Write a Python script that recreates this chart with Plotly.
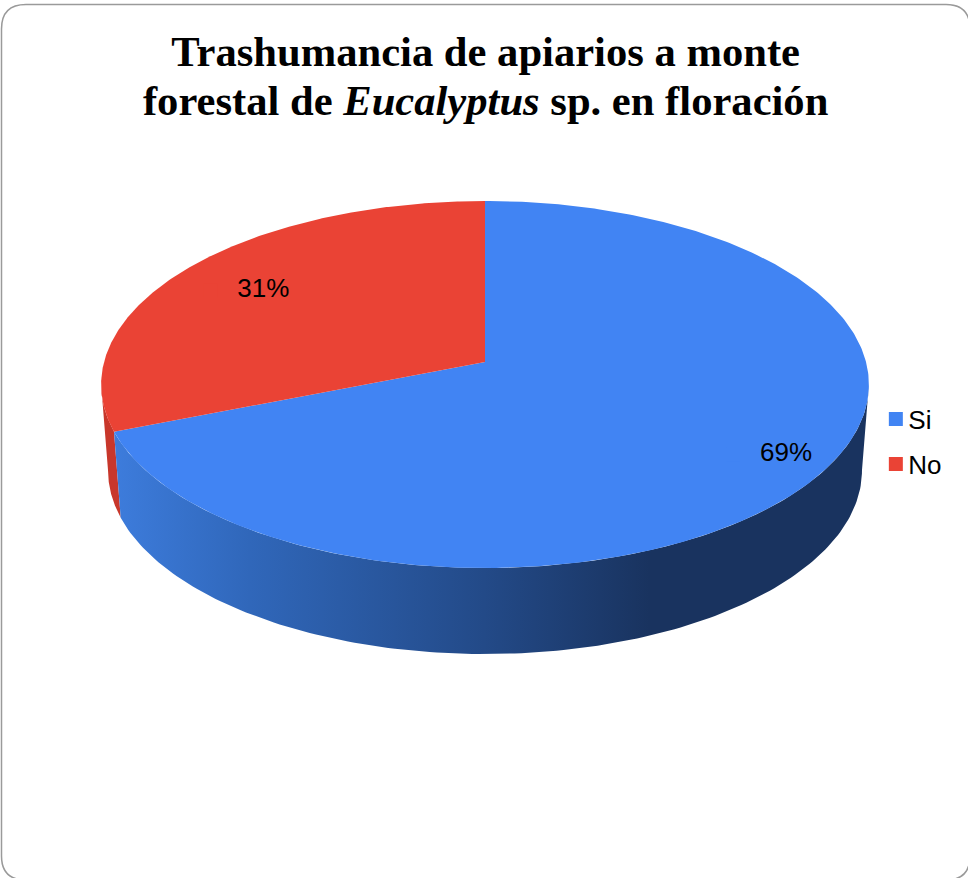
import numpy as np
import plotly.graph_objects as go

# ---- chart values ----
categories = ["Si", "No"]
values = [69, 31]
top_colors = ["#4184f3", "#ea4335"]
red_side_color = "#c8372b"
blue_side_stops = [[0.0, "#3d7cdc"], [0.18, "#3067ba"], [0.49, "#234a88"], [0.71, "#19335f"], [1.0, "#19335f"]]
title_text = "<b>Trashumancia de apiarios a monte<br>forestal de <i>Eucalyptus</i> sp. en floración</b>"

# ---- drawing geometry of the tilted disc (layout constants) ----
CX, APEX_Y, K, A, B = 485.0, 362.0, 0.1226, -136.4, 381.0
DEPTH, BOTTOM_SCALE = 86.0, 0.982
LEFT_TANGENT, RIGHT_TANGENT = 263.0, 97.0
LABEL_RADIUS = [0.88, 0.75]
LABEL_TURN = [-2.0, 1.0]
LABEL_DY = 3
KEY_OFFSET = 53


def project(turn_deg, r=1.0):
    t = np.radians(turn_deg)
    u, v = r * np.sin(t), r * np.cos(t)
    d = 1 + K * v
    return CX + B * u / d, (APEX_Y + A * v) / d


def bottom(turn_deg):
    x, y = project(turn_deg)
    return CX + BOTTOM_SCALE * (x - CX), y + DEPTH


def wall(t0, t1):
    ts = np.linspace(t0, t1, 160)
    x0, y0 = project(ts)
    x1, y1 = bottom(ts[::-1])
    return np.r_[x0, x1, x0[0]], np.r_[y0, y1, y0[0]]


def slice_top(t0, t1):
    ts = np.linspace(t0, t1, 360)
    x, y = project(ts)
    return np.r_[CX, x, CX], np.r_[APEX_Y, y, APEX_Y]


shares = np.array(values) / sum(values) * 360.0
edges = np.r_[0.0, np.cumsum(shares)]
mids = (edges[:-1] + edges[1:]) / 2

fig = go.Figure()

# side walls
wx, wy = wall(edges[1], LEFT_TANGENT)
fig.add_trace(go.Scatter(x=wx, y=wy, mode="lines", fill="toself", fillcolor=red_side_color,
                         line=dict(width=0), showlegend=False, hoverinfo="skip"))
wx, wy = wall(RIGHT_TANGENT, edges[1])
fig.add_trace(go.Scatter(x=wx, y=wy, mode="lines", fill="toself",
                         fillgradient=dict(type="horizontal", colorscale=blue_side_stops),
                         line=dict(width=0), showlegend=False, hoverinfo="skip"))

# top faces
for i, cat in enumerate(categories):
    sx, sy = slice_top(edges[i], edges[i + 1])
    fig.add_trace(go.Scatter(x=sx, y=sy, mode="lines", fill="toself", fillcolor=top_colors[i],
                             line=dict(width=0), showlegend=False, name=cat, hoverinfo="skip"))

# labels and their keys
lx, ly = [], []
for i, cat in enumerate(categories):
    x, y = project(mids[i] + LABEL_TURN[i], LABEL_RADIUS[i])
    y = y + LABEL_DY
    lx.append(x)
    ly.append(y)
    fig.add_trace(go.Scatter(x=[x - KEY_OFFSET], y=[y], mode="markers", name=cat, legendgroup=cat,
                             marker=dict(symbol="square", size=14, color=top_colors[i]),
                             hoverinfo="skip"))
fig.add_trace(go.Scatter(x=lx, y=ly, mode="text", text=[f"{v}%" for v in values],
                         textposition="middle center", showlegend=False, hoverinfo="skip",
                         textfont=dict(family="Liberation Sans", size=26, color="#000000")))

fig.update_layout(
    width=968, height=878,
    margin=dict(l=0, r=0, t=0, b=0),
    paper_bgcolor="white", plot_bgcolor="white",
    xaxis=dict(range=[0, 968], visible=False, fixedrange=True),
    yaxis=dict(range=[878, 0], visible=False, fixedrange=True),
    title=dict(text=title_text, x=0.5017, xanchor="center", y=0.925, yanchor="top",
               font=dict(family="Liberation Serif", size=42.6, color="#000000")),
    legend=dict(x=0.9048, y=0.5493, xanchor="left", yanchor="top", tracegroupgap=8,
                bgcolor="rgba(0,0,0,0)", borderwidth=0,
                font=dict(family="Liberation Sans", size=26, color="#000000")),
    shapes=[dict(type="path", xref="x", yref="y", layer="below",
                 path="M 1.5 29 Q 1.5 4.5 26 4.5 L 946 4.5 Q 970 4.5 970 29 L 970 856 "
                      "Q 970 880 946 880 L 26 880 Q 1.5 880 1.5 856 Z",
                 line=dict(color="#9a9a9a", width=1.5), fillcolor="white")],
)

post = """
document.body.style.margin='0';
document.documentElement.style.overflow='hidden';
document.querySelectorAll('.legendtext').forEach(function(t){t.setAttribute('x','32.5');});
document.querySelectorAll('.gtitle tspan.line').forEach(function(t,i){ if(i>0){t.setAttribute('dy','1.16em');} });
"""
fig.write_html("out.html", post_script=post, config={"displayModeBar": False})
